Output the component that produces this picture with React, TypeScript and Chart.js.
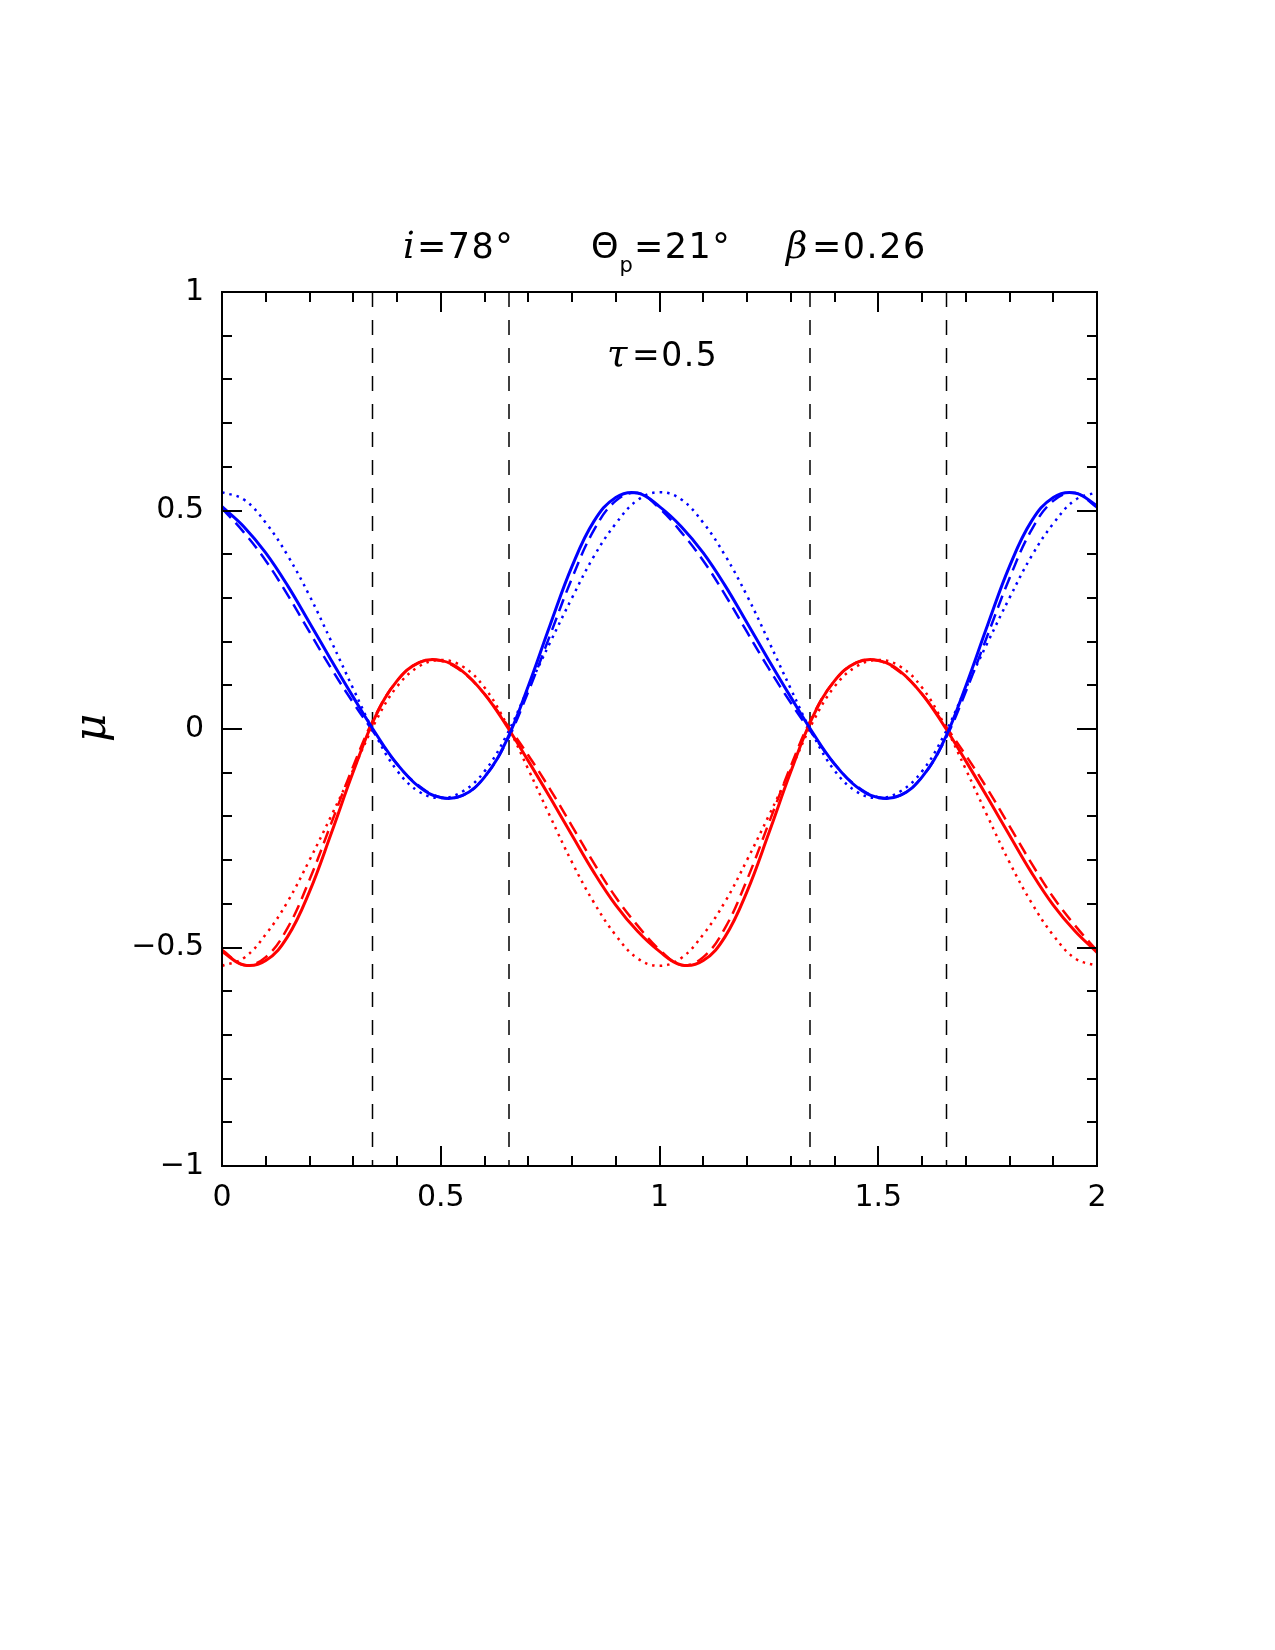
import React, { useEffect, useRef } from "react";
import { Chart, registerables } from "chart.js";

Chart.register(...registerables);

// ---- data ----
const phase = [0, 0.05, 0.1, 0.15, 0.2, 0.25, 0.3, 0.35, 0.4, 0.45, 0.5, 0.55, 0.6, 0.65, 0.7, 0.75, 0.8, 0.85, 0.9, 0.95, 1, 1.05, 1.1, 1.15, 1.2, 1.25, 1.3, 1.35, 1.4, 1.45, 1.5, 1.55, 1.6, 1.65, 1.7, 1.75, 1.8, 1.85, 1.9, 1.95, 2];

const blueSolid = [0.509, 0.463, 0.403, 0.328, 0.243, 0.157, 0.073, -0.008, -0.080, -0.132, -0.157, -0.152, -0.110, -0.027, 0.098, 0.238, 0.372, 0.475, 0.530, 0.540, 0.509, 0.463, 0.403, 0.328, 0.243, 0.157, 0.073, -0.008, -0.080, -0.132, -0.157, -0.152, -0.110, -0.027, 0.098, 0.238, 0.372, 0.475, 0.530, 0.540, 0.511];
const blueDashed = [0.505, 0.450, 0.385, 0.307, 0.222, 0.138, 0.060, -0.012, -0.080, -0.130, -0.156, -0.152, -0.110, -0.030, 0.085, 0.215, 0.345, 0.455, 0.522, 0.540, 0.505, 0.450, 0.385, 0.307, 0.222, 0.138, 0.060, -0.012, -0.080, -0.130, -0.156, -0.152, -0.110, -0.030, 0.085, 0.215, 0.345, 0.455, 0.522, 0.540, 0.507];
const blueDotted = [0.542, 0.525, 0.472, 0.397, 0.305, 0.200, 0.092, -0.012, -0.095, -0.143, -0.158, -0.143, -0.097, -0.015, 0.093, 0.198, 0.300, 0.395, 0.470, 0.524, 0.542, 0.525, 0.472, 0.397, 0.305, 0.200, 0.092, -0.012, -0.095, -0.143, -0.158, -0.143, -0.097, -0.015, 0.093, 0.198, 0.300, 0.395, 0.470, 0.524, 0.542];

const redSolid = [-0.509, -0.540, -0.530, -0.475, -0.372, -0.238, -0.098, 0.027, 0.110, 0.152, 0.157, 0.132, 0.080, 0.008, -0.073, -0.157, -0.243, -0.328, -0.403, -0.463, -0.509, -0.540, -0.530, -0.475, -0.372, -0.238, -0.098, 0.027, 0.110, 0.152, 0.157, 0.132, 0.080, 0.008, -0.073, -0.157, -0.243, -0.328, -0.403, -0.463, -0.511];
const redDashed = [-0.505, -0.540, -0.522, -0.455, -0.345, -0.215, -0.085, 0.030, 0.110, 0.152, 0.156, 0.130, 0.080, 0.012, -0.060, -0.138, -0.222, -0.307, -0.385, -0.450, -0.505, -0.540, -0.522, -0.455, -0.345, -0.215, -0.085, 0.030, 0.110, 0.152, 0.156, 0.130, 0.080, 0.012, -0.060, -0.138, -0.222, -0.307, -0.385, -0.450, -0.507];
const redDotted = [-0.542, -0.524, -0.470, -0.395, -0.300, -0.198, -0.093, 0.015, 0.097, 0.143, 0.158, 0.143, 0.095, 0.012, -0.092, -0.200, -0.305, -0.397, -0.472, -0.525, -0.542, -0.524, -0.470, -0.395, -0.300, -0.198, -0.093, 0.015, 0.097, 0.143, 0.158, 0.143, 0.095, 0.012, -0.092, -0.200, -0.305, -0.397, -0.472, -0.525, -0.542];

const markerPhases = [0.344, 0.656, 1.344, 1.656];

const xTickValues = [0, 0.5, 1, 1.5, 2];
const xTickLabels = ["0", "0.5", "1", "1.5", "2"];
const yTickValues = [-1, -0.5, 0, 0.5, 1];
const yTickLabels = ["\u22121", "\u22120.5", "0", "0.5", "1"];

const xMinorTicks = [0.1, 0.2, 0.3, 0.4, 0.5, 0.6, 0.7, 0.8, 0.9, 1, 1.1, 1.2, 1.3, 1.4, 1.5, 1.6, 1.7, 1.8, 1.9];
const xMajorTicks = [0.5, 1, 1.5];
const yMinorTicks = [-0.9, -0.8, -0.7, -0.6, -0.5, -0.4, -0.3, -0.2, -0.1, 0, 0.1, 0.2, 0.3, 0.4, 0.5, 0.6, 0.7, 0.8, 0.9];
const yMajorTicks = [-0.5, 0, 0.5];

const BLUE = "#0000ff";
const RED = "#ff0000";
const SANS = "'DejaVu Sans', sans-serif";
const SERIF_IT = "italic 37px 'DejaVu Serif', serif";

const toPoints = (ys: number[]) => ys.map((y, i) => ({ x: phase[i], y }));

const labelFor = (vals: number[], labels: string[]) => (v: any) => {
  const n = Number(v);
  const i = vals.findIndex((t) => Math.abs(t - n) < 1e-9);
  return i >= 0 ? labels[i] : "";
};

const framePlugin = {
  id: "frameTicksText",
  afterDraw(chart: any) {
    const { ctx, chartArea: a, scales } = chart;
    const xs = scales.x;
    const ys = scales.y;
    const isMajor = (list: number[], v: number) => list.some((m) => Math.abs(m - v) < 1e-9);
    ctx.save();
    ctx.strokeStyle = "#000";
    ctx.lineWidth = 2;
    ctx.lineCap = "butt";
    ctx.strokeRect(a.left, a.top, a.right - a.left, a.bottom - a.top);
    ctx.beginPath();
    for (const v of xMinorTicks) {
      const p = Math.round(xs.getPixelForValue(v));
      const len = isMajor(xMajorTicks, v) ? 20 : 10;
      ctx.moveTo(p, a.bottom);
      ctx.lineTo(p, a.bottom - len);
      ctx.moveTo(p, a.top);
      ctx.lineTo(p, a.top + len);
    }
    for (const v of yMinorTicks) {
      const p = Math.round(ys.getPixelForValue(v));
      const len = isMajor(yMajorTicks, v) ? 20 : 10;
      ctx.moveTo(a.left, p);
      ctx.lineTo(a.left + len, p);
      ctx.moveTo(a.right, p);
      ctx.lineTo(a.right - len, p);
    }
    ctx.stroke();

    // texts
    ctx.fillStyle = "#000";
    ctx.textBaseline = "alphabetic";
    ctx.textAlign = "left";
    const put = (t: string, font: string, x: number, y: number, spacing = "0px") => {
      ctx.font = font;
      (ctx as any).letterSpacing = spacing;
      ctx.fillText(t, x, y);
      const w = ctx.measureText(t).width;
      (ctx as any).letterSpacing = "0px";
      return x + w;
    };
    const main = `35px ${SANS}`;
    const sub = `21px ${SANS}`;
    // title
    put("i", SERIF_IT, 403, 258);
    put("=78\u00b0", main, 417, 258, "1.5px");
    const th = put("\u0398", main, 591, 258);
    put("p", sub, th + 1, 272);
    put("=21\u00b0", main, 634, 258, "1.5px");
    put("\u03b2", SERIF_IT, 786, 258);
    put("=0.26", main, 812, 258, "1.5px");
    // tau
    put("\u03c4", SERIF_IT, 607, 366);
    put("=0.5", `33px ${SANS}`, 632, 366, "1.5px");
    // y label
    ctx.save();
    ctx.translate(94, 728);
    ctx.rotate(-Math.PI / 2);
    ctx.textAlign = "center";
    ctx.textBaseline = "middle";
    ctx.font = "italic 44px 'DejaVu Serif', serif";
    ctx.fillText("\u03bc", 0, 0);
    ctx.restore();
    ctx.restore();
  },
};

export default function App() {
  const ref = useRef<HTMLCanvasElement | null>(null);
  useEffect(() => {
    if (!ref.current) return;
    const line = (data: number[], color: string, width: number, dash: number[]) => ({
      type: "line" as const,
      data: toPoints(data),
      borderColor: color,
      borderWidth: width,
      borderDash: dash,
      pointRadius: 0,
      tension: 0.4,
      fill: false,
    });
    const markers = markerPhases.map((m) => ({
      type: "line" as const,
      data: [
        { x: m, y: 1 },
        { x: m, y: -1 },
      ],
      borderColor: "#000",
      borderWidth: 1.5,
      borderDash: [15, 13],
      pointRadius: 0,
      tension: 0,
      fill: false,
    }));
    const chart = new Chart(ref.current, {
      type: "line",
      data: {
        datasets: [
          line(blueSolid, BLUE, 3, []),
          line(redSolid, RED, 3, []),
          line(blueDashed, BLUE, 2.5, [13, 7]),
          line(redDashed, RED, 2.5, [13, 7]),
          line(blueDotted, BLUE, 2.5, [2.5, 5]),
          line(redDotted, RED, 2.5, [2.5, 5]),
          ...markers,
        ] as any,
      },
      options: {
        animation: false,
        responsive: false,
        devicePixelRatio: 1,
        layout: { padding: { top: 292, right: 178, left: 0, bottom: 0 } },
        plugins: { legend: { display: false }, tooltip: { enabled: false }, title: { display: false } },
        scales: {
          x: {
            type: "linear",
            min: 0,
            max: 2,
            grid: { display: false, drawTicks: false },
            border: { display: false },
            ticks: {
              stepSize: 0.5,
              padding: 14,
              color: "#000",
              font: { family: SANS, size: 30 },
              maxRotation: 0,
              callback: labelFor(xTickValues, xTickLabels),
            },
            afterFit: (s: any) => {
              s.height = 1650 - 1166;
              s.paddingLeft = 0;
              s.paddingRight = 0;
            },
          },
          y: {
            type: "linear",
            min: -1,
            max: 1,
            grid: { display: false, drawTicks: false },
            border: { display: false },
            ticks: {
              stepSize: 0.5,
              padding: 18,
              color: "#000",
              font: { family: SANS, size: 30 },
              callback: labelFor(yTickValues, yTickLabels),
            },
            afterFit: (s: any) => {
              s.width = 222;
              s.paddingTop = 0;
              s.paddingBottom = 0;
            },
          },
        },
      } as any,
      plugins: [framePlugin],
    });
    return () => chart.destroy();
  }, []);
  return (
    <div style={{ position: "absolute", left: 0, top: 0, width: 1275, height: 1650, background: "#fff" }}>
      <canvas ref={ref} width={1275} height={1650} style={{ display: "block" }} />
    </div>
  );
}
